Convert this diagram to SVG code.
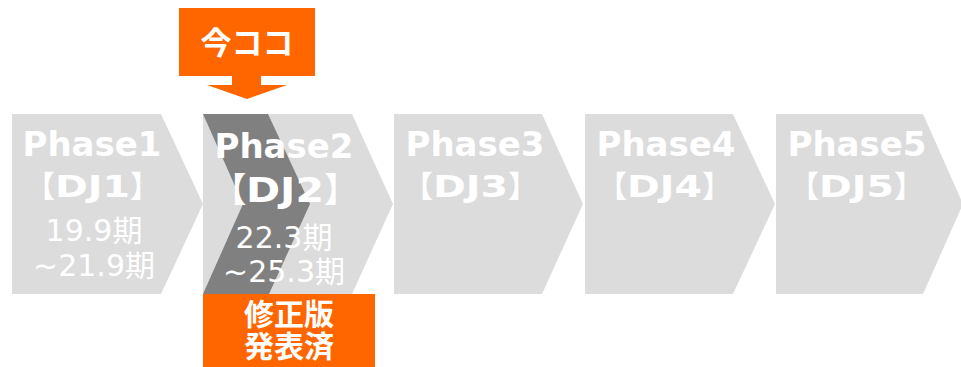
<svg xmlns="http://www.w3.org/2000/svg" width="961" height="367" viewBox="0 0 961 367">
<style>
.box{fill:#DCDCDC}
.band{fill:#808080}
.orange{fill:#FF6600}
.t{font-family:"DejaVu Sans","Noto Sans CJK JP",sans-serif;fill:#FFFFFF;text-anchor:middle}
.s{font-family:"DejaVu Sans","Noto Sans CJK JP",sans-serif;fill:#FFFFFF;text-anchor:start;font-weight:bold;font-feature-settings:"halt"}
.ph{font-size:34px;font-weight:bold}
.dj{font-size:30px}
.dj2{font-size:34px}
.per{font-size:30px}
.cj{font-family:"Noto Sans CJK JP",sans-serif;font-weight:bold;fill:#FFFFFF;text-anchor:middle;font-size:30px}
</style>
<g id="phase1">
<polygon class="box" points="12,114 161,114 203,204 161,294 12,294"/>
<text class="t ph" x="92" y="156">Phase1</text>
<text class="s dj" y="197"><tspan x="40">【</tspan><tspan x="55" textLength="75" lengthAdjust="spacingAndGlyphs">DJ1</tspan><tspan x="130">】</tspan></text>
<text class="t per" x="94" y="241">19.9期</text>
<text class="t per" x="94" y="276">~21.9期</text>
</g>
<g id="phase2">
<polygon class="box" points="203,114 352,114 393,204 352,294 203,294"/>
<polygon class="band" points="203,114 268,114 310,204 269,294 203,294 243,204"/>
<text class="t ph" x="284" y="158">Phase2</text>
<text class="s dj2" y="202"><tspan x="229.5">【</tspan><tspan x="246" textLength="78" lengthAdjust="spacingAndGlyphs">DJ2</tspan><tspan x="324">】</tspan></text>
<text class="t per" x="284" y="248">22.3期</text>
<text class="t per" x="284" y="282">~25.3期</text>
</g>
<g id="phase3">
<polygon class="box" points="394,114 542,114 583,204 542,294 394,294"/>
<text class="t ph" x="475" y="156">Phase3</text>
<text class="s dj" y="197"><tspan x="418">【</tspan><tspan x="433" textLength="75" lengthAdjust="spacingAndGlyphs">DJ3</tspan><tspan x="508">】</tspan></text>
</g>
<g id="phase4">
<polygon class="box" points="585,114 733,114 775,204 733,294 585,294"/>
<text class="t ph" x="666" y="156">Phase4</text>
<text class="s dj" y="197"><tspan x="612">【</tspan><tspan x="627" textLength="75" lengthAdjust="spacingAndGlyphs">DJ4</tspan><tspan x="702">】</tspan></text>
</g>
<g id="phase5">
<polygon class="box" points="776,114 923,114 963,204 923,294 776,294"/>
<text class="t ph" x="857" y="156">Phase5</text>
<text class="s dj" y="197"><tspan x="804">【</tspan><tspan x="819" textLength="75" lengthAdjust="spacingAndGlyphs">DJ5</tspan><tspan x="894">】</tspan></text>
</g>
<g id="now">
<rect class="orange" x="179" y="8" width="136" height="68"/>
<text class="cj" x="247" y="54" style="font-size:31px">今ココ</text>
</g>
<g id="connectors">
<polygon class="orange" points="232,75 261,75 261,85 287,85 247,99 207,85 232,85"/>
</g>
<g id="published">
<rect class="orange" x="203" y="294" width="172" height="73"/>
<text class="cj" x="289" y="325">修正版</text>
<text class="cj" x="289" y="357">発表済</text>
</g>
</svg>
